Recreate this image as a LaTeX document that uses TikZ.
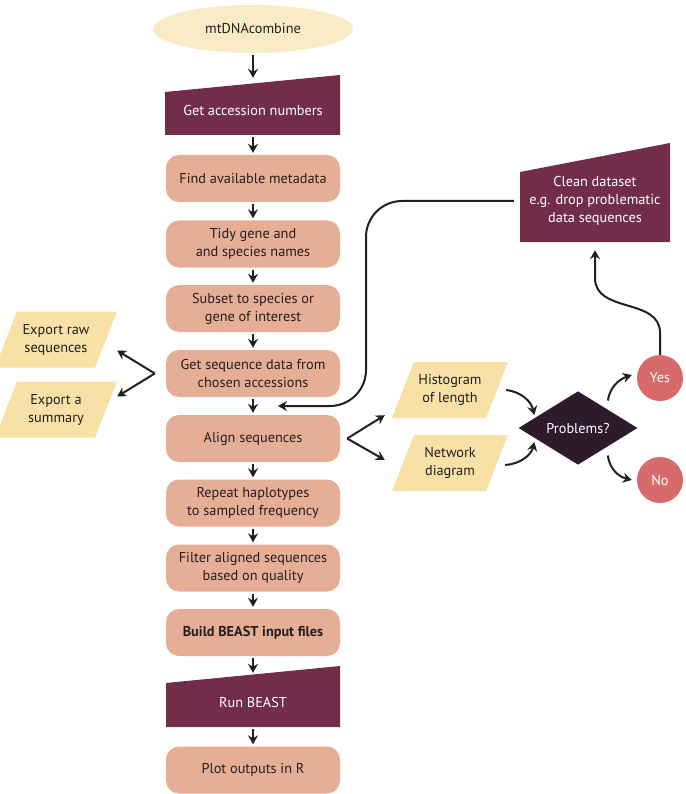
\documentclass[tikz,border=0pt]{standalone}
\usepackage{fontspec}
\setmainfont{PT Sans}
\usetikzlibrary{shapes.geometric,arrows.meta,calc}
\definecolor{salmon}{HTML}{E7AE96}
\definecolor{purp}{HTML}{722D48}
\definecolor{yel}{HTML}{F8E1A6}
\definecolor{cream}{HTML}{F9EBC5}
\definecolor{rose}{HTML}{D86A6B}
\definecolor{dkpurp}{HTML}{2F1A2D}
\definecolor{ink}{HTML}{231F20}
\begin{document}
\begin{tikzpicture}[x=1pt,y=-1pt,
  font=\fontsize{14.3}{18}\selectfont,
  box/.style={rectangle, rounded corners=13, fill=salmon, minimum width=174, minimum height=47, inner sep=0, align=center, text=ink},
  manual/.style={rectangle, inner sep=0, align=center, text=white},
  para/.style={rectangle, minimum width=116, minimum height=56, inner sep=0, align=center, text=ink,
    path picture={\fill[yel] (path picture bounding box.south west) -- ([xshift=-22pt]path picture bounding box.south east) -- (path picture bounding box.north east) -- ([xshift=22pt]path picture bounding box.north west) -- cycle;}},
  arr/.style={draw=ink, line width=2pt, -{Stealth[length=9pt,width=10pt,inset=3pt]}},
  flow/.style={arr, shorten <=2pt, shorten >=2pt}]
\useasboundingbox (0,0) rectangle (685,794);

% manual-input shapes
\fill[purp] (165,135) -- (340,135) -- (340,75) -- (165,92) -- cycle;
\fill[purp] (166,727) -- (340,727) -- (340,666) -- (166,683) -- cycle;
\fill[purp] (520,242) -- (670,242) -- (670,143) -- (520,172) -- cycle;

% main column
\node[ellipse, fill=cream, minimum width=200, minimum height=48, inner sep=0, text=ink] (start) at (253,29) {mtDNAcombine};
\node[manual, minimum width=175, minimum height=50] (acc) at (253,110) {Get accession numbers};
\node[box] (find) at (253,178.5) {Find available metadata};
\node[box] (tidy) at (253,244) {Tidy gene and\\and species names};
\node[box] (subset) at (253,308.5) {Subset to species or\\gene of interest};
\node[box] (getseq) at (253,373.5) {Get sequence data from\\chosen accessions};
\node[box] (align) at (253,438.5) {Align sequences};
\node[box] (repeat) at (253,503) {Repeat haplotypes\\to sampled frequency};
\node[box] (filter) at (253,568) {Filter aligned sequences\\based on quality};
\node[box, font=\fontsize{14.3}{18}\selectfont\bfseries] (build) at (253,632.5) {Build BEAST input files};
\node[manual, minimum width=174, minimum height=50] (run) at (253,702) {Run BEAST};
\node[box] (plot) at (253,770) {Plot outputs in R};

% side nodes
\node[para, minimum width=122] (expraw) at (56,339.5) {Export raw\\sequences};
\node[para, minimum width=122] (expsum) at (56,409.5) {Export a\\summary};
\node[para] (hist) at (450,390) {Histogram\\of length};
\node[para] (netw) at (450,463) {Network\\diagram};
\node[diamond, fill=dkpurp, minimum width=119, minimum height=62, inner sep=0, text=white] (prob) at (578,428) {Problems?};
\node[circle, fill=rose, minimum size=46, inner sep=0, text=white] (yes) at (660,378) {Yes};
\node[circle, fill=rose, minimum size=46, inner sep=0, text=white] (no) at (660,480) {No};
\node[manual, minimum width=150, minimum height=82] (clean) at (595,201) {Clean dataset\\e.g. drop problematic\\data sequences};

% main flow
\draw[flow, shorten >=7pt] (start) -- (acc);
\draw[flow] (acc) -- (find);
\draw[flow] (find) -- (tidy);
\draw[flow] (tidy) -- (subset);
\draw[flow] (subset) -- (getseq);
\draw[flow] (getseq) -- (align);
\draw[flow] (align) -- (repeat);
\draw[flow] (repeat) -- (filter);
\draw[flow] (filter) -- (build);
\draw[flow, shorten >=4pt] (build) -- (run);
\draw[flow] (run) -- (plot);

% left fork
\coordinate (fork1) at ($(getseq.west)+(-11,0)$);
\draw[arr] (fork1) -- ($(expraw.east)+(0,11)$);
\draw[arr] (fork1) -- ($(expsum.east)+(0,-13)$);

% right fork
\coordinate (fork2) at ($(align.east)+(7,0)$);
\draw[arr] (fork2) -- ($(hist.south west)+(-7,-3)$);
\draw[arr] (fork2) -- ($(netw.west)+(-7,-3)$);

% into / out of decision
\draw[arr] ($(hist.east)+(-2,0)$) .. controls +(16,2) and +(-3,-13) .. ($(prob.west)+(16,-13)$);
\draw[arr] ($(netw.east)+(-3,2)$) .. controls +(15,-1) and +(-3,13) .. ($(prob.west)+(16,14)$);
\draw[arr] ($(prob.north east)+(0,-9)$) .. controls +(2,-14) and +(-12,4) .. ($(yes.west)+(-5,-3)$);
\draw[arr] ($(prob.south east)+(0,9)$) .. controls +(2,15) and +(-12,-3) .. ($(no.west)+(-5,0)$);

% yes -> clean
\draw[arr, shorten >=8pt] (yes.north) -- ++(0,-22) .. controls +(0,-35) and +(0,35) .. ($(clean.south)+(0,36)$) -- (clean.south);

% clean -> back into main flow
\coordinate (merge) at ($(getseq.south)!0.5!(align.north)+(25,0)$);
\coordinate (bendx) at (366,0);
\draw[arr, rounded corners=36, shorten <=6pt] (clean.west) -| (bendx |- merge) -- (merge);
\end{tikzpicture}
\end{document}
